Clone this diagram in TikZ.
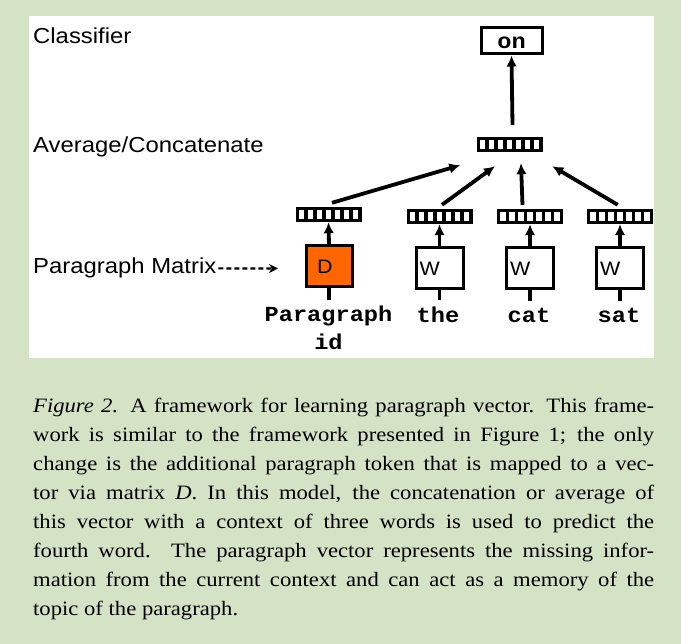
\documentclass[tikz,border=0pt]{standalone}
\usepackage{fontspec}
\setmainfont{Liberation Serif}[FakeStretch=1.11]
\newfontfamily\lsans{Liberation Sans}[FakeStretch=1.1]
\newfontfamily\lmono{Liberation Mono}[FakeStretch=1.1]
\usetikzlibrary{arrows.meta,calc}
\definecolor{bggreen}{RGB}{212,226,198}
\definecolor{dorange}{RGB}{255,102,0}
\begin{document}
\begin{tikzpicture}[x=1pt,y=-1pt,
  lbl/.style={font=\lsans\fontsize{21.7}{25}\selectfont, anchor=base west, inner sep=0},
  tok/.style={font=\lmono\bfseries\fontsize{21.5}{25}\selectfont, anchor=base, inner sep=0},
  vecn/.style={fill=black, minimum width=66pt, minimum height=15pt, inner sep=0, draw=none},
  wbox/.style={draw, line width=3pt, fill=white, minimum width=47pt, minimum height=41pt,
    text width=40pt, inner xsep=3.5pt, inner ysep=0, align=left,
    font=\lsans\fontsize{19.5}{22}\selectfont},
  dbox/.style={wbox, fill=dorange, minimum width=46pt, text width=24pt, inner xsep=11pt},
  arr/.style={line width=3.8pt, -{Latex[length=11pt,width=10.5pt]}},
  stem/.style={line width=3.8pt},
  dasharr/.style={line width=2.2pt, dash pattern=on 5pt off 3pt, -{Stealth[length=9pt,width=9pt]}}]
\useasboundingbox (0,0) rectangle (681,644);
\fill[bggreen] (0,0) rectangle (681,644);
\fill[white] (28.5,16.5) rectangle (654,358);

% side labels
\node[lbl] (cls) at (33,43.3) {Classifier};
\node[lbl] (avg) at (33,153) {Average/Concatenate};
\node[lbl] (pm) at (33,274) {Paragraph Matrix};
\coordinate (pmend) at (278,268.5);
\draw[dasharr] ($(pm.east)+(2,0)$) -- (pmend);

% output box
\node[draw, line width=3pt, minimum width=61pt, minimum height=26pt, inner sep=0,
  text height=14.6pt, text depth=0pt, font=\lmono\bfseries\fontsize{21.5}{25}\selectfont]
  (onb) at (511.5,41) {on};

% vectors
\node[vecn] (top) at (509.5,144.5) {};
\node[vecn] (pv) at (328.5,214.5) {};
\node[vecn] (vthe) at (439.5,216.5) {};
\node[vecn] (vcat) at (530,216.5) {};
\node[vecn] (vsat) at (620,216.5) {};
\foreach \v in {top,pv,vthe,vcat,vsat}{
  \foreach \k in {0,...,6}{
    \fill[white] ($(\v.west)+(3.2+\k*9.0,-4.3)$) rectangle ++(5.8,8.6);
  }
}

% matrix boxes
\node[dbox] (Dbox) at (329,266.5) {D};
\node[wbox] (Wthe) at (439.5,268.5) {W};
\node[wbox] (Wcat) at (530,268.5) {W};
\node[wbox] (Wsat) at (620,268.5) {W};

% tokens
\node[tok] (tpara) at (328.5,322) {Paragraph};
\node[tok] (tid) at (328.5,350) {id};
\node[tok] (tthe) at (438,323) {the};
\node[tok] (tcat) at (529,323) {cat};
\node[tok] (tsat) at (619,323) {sat};

% stems
\draw[stem, shorten >=6pt] (Dbox.south) -- (Dbox.south |- tpara.north);
\draw[stem, shorten >=7pt] (Wthe.south) -- (Wthe.south |- tthe.north);
\draw[stem, shorten >=7pt] (Wcat.south) -- (Wcat.south |- tcat.north);
\draw[stem, shorten >=7pt] (Wsat.south) -- (Wsat.south |- tsat.north);

% box to vector arrows
\draw[arr] (Dbox.north) -- (pv.south);
\draw[arr] (Wthe.north) -- (vthe.south);
\draw[arr] (Wcat.north) -- (vcat.south);
\draw[arr] (Wsat.north) -- (vsat.south);

% vector to average arrows
\draw[arr] ($(pv.north)+(3.5,-4)$) -- ($(top.south west)+(-16,13)$);
\draw[arr] ($(vthe.north)+(2.5,-4)$) -- ($(top.south)+(-14.5,14)$);
\draw[arr] ($(vcat.north)+(-7.5,-4)$) -- ($(top.south)+(11.5,11)$);
\draw[arr] ($(vsat.north)+(-2.3,-4)$) -- ($(top.south east)+(9.6,14)$);
\draw[arr] ($(top.north)+(3,-12)$) -- (onb.south);

% caption
\node[anchor=north west, inner sep=0, align=left, font=\fontsize{20.4}{29}\selectfont] (cap) at (33,397.7) {%
\makebox[621pt][s]{\textit{Figure 2.} A framework for learning paragraph vector. This frame-}\\
\makebox[621pt][s]{work is similar to the framework presented in Figure 1; the only}\\
\makebox[621pt][s]{change is the additional paragraph token that is mapped to a vec-}\\
\makebox[621pt][s]{tor via matrix \textit{D}. In this model, the concatenation or average of}\\
\makebox[621pt][s]{this vector with a context of three words is used to predict the}\\
\makebox[621pt][s]{fourth word. The paragraph vector represents the missing infor-}\\
\makebox[621pt][s]{mation from the current context and can act as a memory of the}\\
topic of the paragraph.};
\end{tikzpicture}
\end{document}
